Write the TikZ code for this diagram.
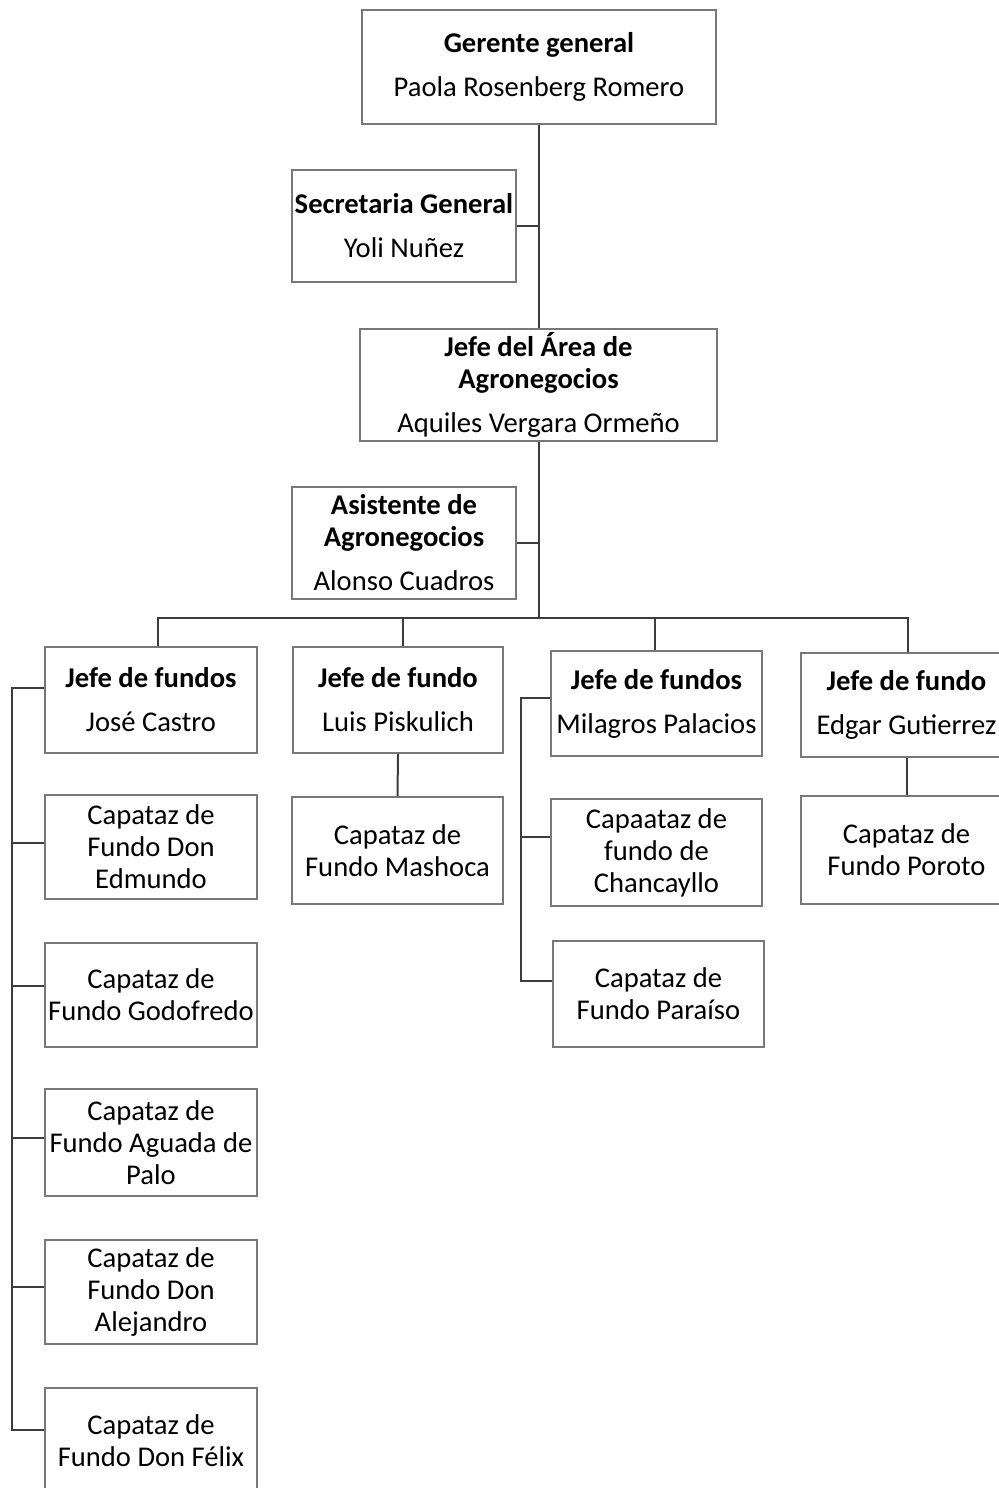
\documentclass[tikz,border=0pt]{standalone}
\usepackage{fontspec}
\setmainfont{Carlito}
\definecolor{boxgray}{RGB}{120,120,120}
\definecolor{linegray}{RGB}{60,60,60}
\begin{document}
\begin{tikzpicture}[x=0.5pt,y=-0.5pt,
  box/.style={draw=boxgray, line width=1.2pt, inner sep=0pt, align=center,
    font=\fontsize{14.3pt}{16pt}\selectfont},
  conn/.style={draw=linegray, line width=1pt}]
\useasboundingbox (0,0) rectangle (999,1488);
% top
\node[box, minimum width=177pt, minimum height=57pt] (g) at (539,67)
  {\textbf{Gerente general}\\[6pt]Paola Rosenberg Romero};
\node[box, minimum width=112pt, minimum height=56pt] (s) at (404,226)
  {\textbf{Secretaria General}\\[6pt]Yoli Nuñez};
\node[box, minimum width=178.5pt, minimum height=56pt] (j) at (538.5,385)
  {\textbf{Jefe del Área de}\\\textbf{Agronegocios}\\[6pt]Aquiles Vergara Ormeño};
\node[box, minimum width=112pt, minimum height=56pt] (a) at (404,543)
  {\textbf{Asistente de}\\\textbf{Agronegocios}\\[6pt]Alonso Cuadros};
% row of jefes
\node[box, minimum width=106pt, minimum height=53pt] (jc) at (151,700)
  {\textbf{Jefe de fundos}\\[6pt]José Castro};
\node[box, minimum width=105pt, minimum height=53pt] (lp) at (398,700)
  {\textbf{Jefe de fundo}\\[6pt]Luis Piskulich};
\node[box, minimum width=105.5pt, minimum height=52.5pt] (mp) at (656.5,703.5)
  {\textbf{Jefe de fundos}\\[6pt]Milagros Palacios};
\node[box, minimum width=105.5pt, minimum height=52pt] (eg) at (906.5,705)
  {\textbf{Jefe de fundo}\\[6pt]Edgar Gutierrez};
% capataces
\node[box, minimum width=105.5pt, minimum height=53.5pt] (ms) at (397.5,850.5)
  {Capataz de\\Fundo Mashoca};
\node[box, minimum width=105.5pt, minimum height=54pt] (po) at (906.5,850)
  {Capataz de\\Fundo Poroto};
\node[box, minimum width=105.5pt, minimum height=53.5pt] (ch) at (656.5,852.5)
  {Capaataz de\\fundo de\\Chancayllo};
\node[box, minimum width=105.5pt, minimum height=53pt] (pa) at (658.5,994)
  {Capataz de\\Fundo Paraíso};
\node[box, minimum width=106pt, minimum height=52pt] (ed) at (151,847)
  {Capataz de\\Fundo Don\\Edmundo};
\node[box, minimum width=106pt, minimum height=52pt] (gd) at (151,995)
  {Capataz de\\Fundo Godofredo};
\node[box, minimum width=106pt, minimum height=53.5pt] (ag) at (151,1142.5)
  {Capataz de\\Fundo Aguada de\\Palo};
\node[box, minimum width=106pt, minimum height=52pt] (al) at (151,1292)
  {Capataz de\\Fundo Don\\Alejandro};
\node[box, minimum width=106pt, minimum height=53pt] (fx) at (151,1441)
  {Capataz de\\Fundo Don Félix};
% connectors
\coordinate (bus) at (539,618);
\draw[conn] (g.south) -- (g.south |- j.north);
\draw[conn] (s.east) -- (s.east -| g.south);
\draw[conn] (j.south) -- (j.south |- bus);
\draw[conn] (a.east) -- (a.east -| j.south);
\draw[conn] ([xshift=3.5pt]jc.north) -- ([xshift=3.5pt]jc.north |- bus) -| ([xshift=0.75pt]eg.north);
\draw[conn] ([xshift=2.5pt]lp.north) -- ([xshift=2.5pt]lp.north |- bus);
\draw[conn] ([xshift=-0.75pt]mp.north) -- ([xshift=-0.75pt]mp.north |- bus);
\draw[conn] (lp.south) -- (ms.north);
\draw[conn] (eg.south) -- (po.north);
% Milagros column
\draw[conn] ([yshift=2.75pt]mp.west) -- ++(-14.5pt,0) |- ([yshift=6.5pt]pa.west);
\draw[conn] ([yshift=7.75pt]ch.west) -- ++(-14.5pt,0);
% Jose column
\draw[conn] ([yshift=6pt]jc.west) -- ++(-16pt,0) |- ([yshift=5.5pt]fx.west);
\draw[conn] ([yshift=2pt]ed.west) -- ++(-16pt,0);
\draw[conn] ([yshift=4.5pt]gd.west) -- ++(-16pt,0);
\draw[conn] ([yshift=2.25pt]ag.west) -- ++(-16pt,0);
\draw[conn] ([yshift=2.5pt]al.west) -- ++(-16pt,0);
\end{tikzpicture}
\end{document}
